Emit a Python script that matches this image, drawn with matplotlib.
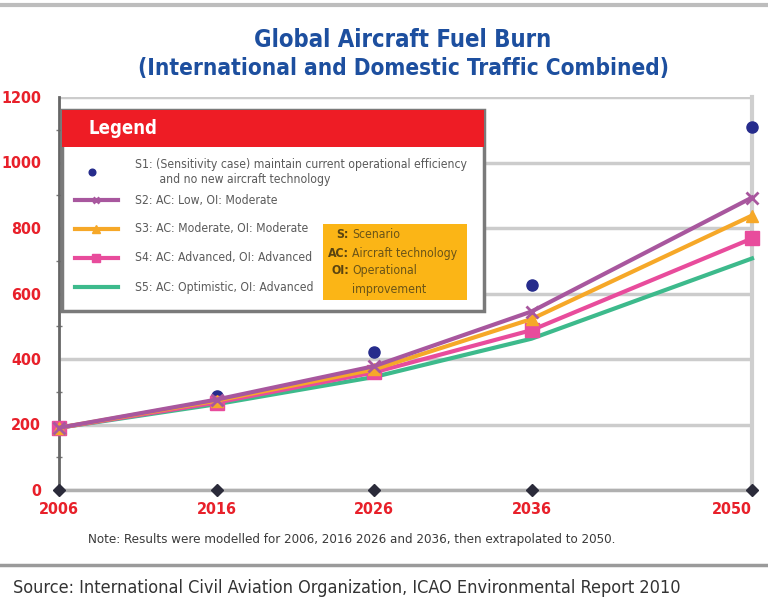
import matplotlib

matplotlib.use("Agg")
import matplotlib.pyplot as plt
import numpy as np
from matplotlib import font_manager
from matplotlib.lines import Line2D
from matplotlib.patches import Rectangle
from matplotlib.ticker import MultipleLocator

years = [2006, 2016, 2026, 2036, 2050]
s1_values = [190, 288, 420, 625, 1108]
s2_values = [190, 276, 378, 545, 893]
s3_values = [190, 273, 368, 522, 838]
s4_values = [190, 267, 359, 488, 768]
s5_values = [190, 262, 345, 462, 707]
y_ticks = [0, 200, 400, 600, 800, 1000, 1200]

legend_labels = [
    "S1: (Sensitivity case) maintain current operational efficiency\n"
    "       and no new aircraft technology",
    "S2: AC: Low, OI: Moderate",
    "S3: AC: Moderate, OI: Moderate",
    "S4: AC: Advanced, OI: Advanced",
    "S5: AC: Optimistic, OI: Advanced",
]
key_terms = [("S:", "Scenario"), ("AC:", "Aircraft technology"),
             ("OI:", "Operational"), ("", "improvement")]

W, H = 768, 611
RED = "#e8202a"
BLUE = "#1d4f9f"
STYLES = [
    dict(color="#262c8c", marker="o", markersize=8, linestyle="none"),
    dict(color="#a8579e", marker="x", markersize=8, markeredgewidth=2, linewidth=3),
    dict(color="#f6a828", marker="^", markersize=9, linewidth=3),
    dict(color="#e84c9c", marker="s", markersize=10, linewidth=3),
    dict(color="#3dba8c", marker="", linewidth=3),
]


def weight_num(w):
    if isinstance(w, (int, float)):
        return w
    return {"bold": 700, "heavy": 800, "black": 900, "semibold": 600,
            "demibold": 600, "extra bold": 800}.get(str(w).lower(), 400)


def narrow_font():
    fonts = font_manager.fontManager.ttflist
    found = []
    for f in fonts:
        if "Narrow" in f.name or "Condensed" in f.name:
            found.append((f.name, "normal", weight_num(f.weight)))
        elif f.stretch in ("condensed", "semi-condensed"):
            found.append((f.name, f.stretch, weight_num(f.weight)))
    bold = [item for item in found if item[2] >= 600]
    pick = bold[0] if bold else (found[0] if found else ("DejaVu Sans", "normal", 400))
    return {"family": pick[0], "fontstretch": pick[1]}


NARROW = narrow_font()


def fx(px):
    return px / W


def fy(py):
    return 1 - py / H


fig = plt.figure(figsize=(W / 100, H / 100), dpi=100)
fig.patch.set_facecolor("white")
renderer = fig.canvas.get_renderer()


def text_width(s, size, weight="normal"):
    probe = fig.text(0, 0, s, fontsize=size, fontweight=weight, **NARROW)
    width = probe.get_window_extent(renderer).width
    probe.remove()
    return width


def label(x, y, s, width_px=None, line=None, **kw):
    t = fig.text(fx(x), fy(y), s, **NARROW, **kw)
    if width_px:
        size = t.get_fontsize()
        measured = text_width(line or s, size, t.get_fontweight())
        t.set_fontsize(size * width_px / measured)
    return t


# plot area
ax = fig.add_axes([fx(59), fy(490), fx(752) - fx(59), fy(97) - fy(490)])
ax.set_xlim(2006, 2050)
ax.set_ylim(0, 1200)
series = [s1_values, s2_values, s3_values, s4_values, s5_values]
# S1 sits underneath, the scenario lines are stacked with S2 on top
layer = {0: 3, 1: 8, 2: 7, 3: 6, 4: 5}
for i, (values, style) in enumerate(zip(series, STYLES)):
    ax.plot(years, values, clip_on=False, zorder=layer[i], **style)
ax.plot(years, np.zeros(len(years)), linestyle="none", marker="D",
        markersize=6, color="#2b2b3a", clip_on=False, zorder=5)

tick_size = 12 * 40 / text_width("2006", 12, "bold")

ax.set_yticks(y_ticks)
ax.set_xticks(years)
ax.yaxis.set_minor_locator(MultipleLocator(100))
ax.grid(axis="y", color="#cccccc", linewidth=2.5, zorder=0)
ax.tick_params(axis="both", which="major", length=0, colors=RED,
               labelsize=tick_size)
ax.tick_params(axis="y", pad=13)
ax.tick_params(axis="x", pad=9)
ax.tick_params(axis="y", which="minor", length=5, direction="inout",
               color="#777777", width=1)
for tick in ax.get_xticklabels() + ax.get_yticklabels():
    tick.set_fontfamily(NARROW["family"])
    tick.set_fontstretch(NARROW["fontstretch"])
    tick.set_fontweight("bold")
ax.get_xticklabels()[-1].set_horizontalalignment("right")
ax.spines["top"].set_visible(False)
ax.spines["left"].set_color("#666666")
ax.spines["left"].set_linewidth(2)
ax.spines["bottom"].set_color("#b0b0b0")
ax.spines["bottom"].set_linewidth(2.5)
ax.spines["right"].set_color("#cfcfcf")
ax.spines["right"].set_linewidth(3)

# legend panel
fig.add_artist(Rectangle((fx(62), fy(311)), fx(484) - fx(62), fy(110) - fy(311),
                         transform=fig.transFigure, facecolor="white",
                         edgecolor="#7a7a7a", linewidth=2.5, zorder=10))
fig.add_artist(Rectangle((fx(62), fy(147)), fx(484) - fx(62), fy(110) - fy(147),
                         transform=fig.transFigure, facecolor="#ee1c25",
                         edgecolor="none", zorder=11))
label(88, 129, "Legend", 69, color="white", fontsize=13, fontweight="bold",
      va="center", zorder=12)

rows = [172, 200, 229, 258, 287]
legend_size = 8 * 332 / text_width(legend_labels[0].split("\n")[0], 8)
for text, style, row in zip(legend_labels, STYLES, rows):
    if style.get("linestyle") == "none":
        xs, ys = [fx(92)], [fy(row)]
        every = None
    else:
        xs, ys = [fx(75), fx(96), fx(118)], [fy(row)] * 3
        every = [1]
    kw = dict(style)
    kw["markersize"] = kw.get("markersize", 0) * 0.6
    fig.add_artist(Line2D(xs, ys, transform=fig.transFigure, zorder=12,
                          markevery=every, **kw))
    label(135, row, text, color="#5a5a5a", fontsize=legend_size, va="center",
          linespacing=1.15, zorder=12)

fig.add_artist(Rectangle((fx(323), fy(300)), fx(467) - fx(323), fy(224) - fy(300),
                         transform=fig.transFigure, facecolor="#fbb516",
                         edgecolor="none", zorder=12))
key_size = 9 * 127 / text_width("AC: Aircraft technology", 9)
for i, (term, meaning) in enumerate(key_terms):
    y = 235 + i * 18
    label(349, y, term, fontsize=key_size, fontweight="bold", color="#5a4410",
          ha="right", va="center", zorder=13)
    label(352, y, meaning, fontsize=key_size, color="#6a5418",
          ha="left", va="center", zorder=13)

# titles and notes
label(403, 40, "Global Aircraft Fuel Burn", 298, color=BLUE, fontsize=17,
      fontweight="bold", ha="center", va="center")
label(404, 68, "(International and Domestic Traffic Combined)", 530,
      color=BLUE, fontsize=17, fontweight="bold", ha="center", va="center")
label(88, 540,
      "Note: Results were modelled for 2006, 2016 2026 and 2036, then "
      "extrapolated to 2050.", 529, fontsize=9, color="#3a3a3a", va="center")
label(13, 588,
      "Source: International Civil Aviation Organization, ICAO "
      "Environmental Report 2010", 667, fontsize=11.5, color="#333333",
      va="center")
fig.add_artist(Line2D([0, 1], [fy(5), fy(5)], transform=fig.transFigure,
                      color="#bdbdbd", linewidth=3))
fig.add_artist(Line2D([0, 1], [fy(565), fy(565)], transform=fig.transFigure,
                      color="#9a9a9a", linewidth=2.5))

fig.savefig("out.png", dpi=100, facecolor="white")
